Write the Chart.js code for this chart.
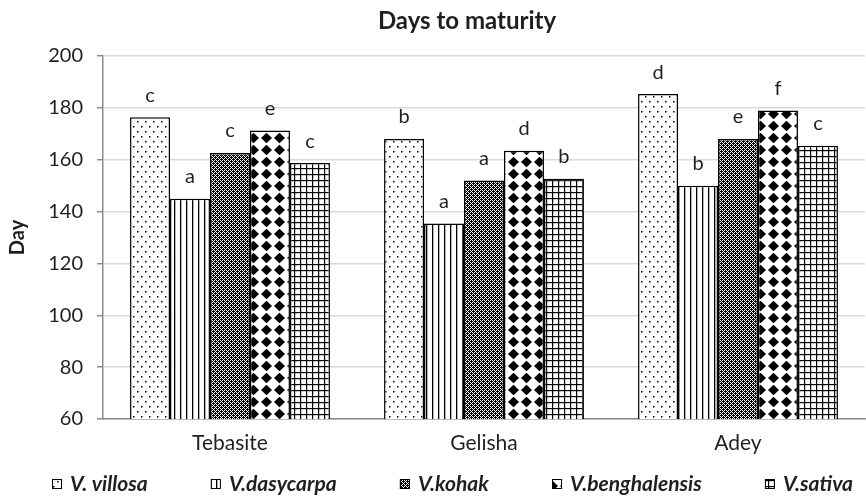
<!DOCTYPE html>
<html>
<head>
<meta charset="utf-8">
<script src="https://cdn.jsdelivr.net/npm/chart.js@4/dist/chart.umd.min.js"></script>
<style>
  html, body { margin: 0; padding: 0; background: #fff; }
  #wrap { width: 866px; height: 502px; }
</style>
</head>
<body>
<div id="wrap"><canvas id="chartDays" width="866" height="502"></canvas></div>
<script>
// ===== Dados =====
const locations = ['Tebasite', 'Gelisha', 'Adey'];
const species = ['V. villosa', 'V.dasycarpa', 'V.kohak', 'V.benghalensis', 'V.sativa'];

const villosa = [176.4, 168.0, 185.3];
const dasycarpa = [144.9, 135.4, 150.0];
const kohak = [162.6, 152.0, 168.0];
const benghalensis = [171.3, 163.5, 179.0];
const sativa = [158.7, 152.7, 165.4];

// letras de significância
const lettersVillosa = ['c', 'b', 'd'];
const lettersDasycarpa = ['a', 'a', 'b'];
const lettersKohak = ['c', 'a', 'e'];
const lettersBenghalensis = ['e', 'd', 'f'];
const lettersSativa = ['c', 'b', 'c'];

const yTicks = [60, 80, 100, 120, 140, 160, 180, 200];

const FONT = "Lato, 'Open Sans', sans-serif";
const TEXT = '#1f1f1f';

// ===== Padrões de preenchimento =====
function makeTile(w, h, draw) {
    const c = document.createElement('canvas');
    c.width = w; c.height = h;
    const g = c.getContext('2d');
    g.fillStyle = '#fff';
    g.fillRect(0, 0, w, h);
    g.fillStyle = '#000';
    draw(g);
    return document.createElement('canvas').getContext('2d').createPattern(c, 'repeat');
}

const patDots = makeTile(8, 10, g => {
    g.fillRect(1, 1, 1.5, 1.5);
    g.fillRect(5, 6, 1.5, 1.5);
});
const patVertical = makeTile(6, 6, g => {
    g.fillRect(0, 0, 1.3, 6);
});
const patDense = makeTile(4, 4, g => {
    g.fillRect(0, 0, 4, 4);
    g.fillStyle = '#fff';
    [[0, 0], [2, 0], [1, 1], [0, 2], [2, 2], [3, 3]].forEach(p => g.fillRect(p[0], p[1], 1, 1));
});
const patDiamond = makeTile(13, 12, g => {
    g.beginPath();
    g.moveTo(6.5, 0.8);
    g.lineTo(12, 6);
    g.lineTo(6.5, 11.2);
    g.lineTo(1, 6);
    g.closePath();
    g.fill();
});
const patGrid = makeTile(6, 6, g => {
    g.fillRect(0, 0, 6, 1.2);
    g.fillRect(0, 0, 1.2, 6);
});

// ===== Plugins =====
const letterLabels = {
    id: 'letterLabels',
    afterDatasetsDraw(chart) {
        const ctx = chart.ctx;
        ctx.save();
        ctx.font = '20px ' + FONT;
        ctx.fillStyle = TEXT;
        ctx.textAlign = 'center';
        ctx.textBaseline = 'middle';
        chart.data.datasets.forEach((ds, i) => {
            const meta = chart.getDatasetMeta(i);
            meta.data.forEach((bar, j) => {
                ctx.fillText(ds.letters[j], bar.x, bar.y - 22);
            });
        });
        ctx.restore();
    }
};

const chartTitle = {
    id: 'chartTitle',
    afterDraw(chart) {
        const ctx = chart.ctx;
        ctx.save();
        ctx.font = 'bold 24px ' + FONT;
        ctx.fillStyle = TEXT;
        ctx.textAlign = 'center';
        ctx.textBaseline = 'middle';
        ctx.fillText('Days to maturity', 467, 21);
        ctx.restore();
    }
};

// legenda desenhada à mão, espalhada entre x0 e x1
const bottomLegend = {
    id: 'bottomLegend',
    afterDraw(chart) {
        const ctx = chart.ctx;
        const x0 = 52, x1 = 853, y = 484, box = 10, gapText = 8;
        ctx.save();
        ctx.font = 'italic bold 21px ' + FONT;
        const sets = chart.data.datasets;
        const widths = sets.map(ds => ctx.measureText(ds.label).width);
        const used = widths.reduce((a, b) => a + b, 0) + sets.length * (box + gapText);
        const gap = (x1 - x0 - used) / (sets.length - 1);
        let x = x0;
        sets.forEach((ds, i) => {
            ctx.fillStyle = ds.backgroundColor;
            ctx.fillRect(x, y - box / 2, box, box);
            ctx.strokeStyle = '#000';
            ctx.lineWidth = 1;
            ctx.strokeRect(x + 0.5, y - box / 2 + 0.5, box - 1, box - 1);
            ctx.fillStyle = TEXT;
            ctx.textAlign = 'left';
            ctx.textBaseline = 'middle';
            ctx.fillText(ds.label, x + box + gapText, y);
            x += box + gapText + widths[i] + gap;
        });
        ctx.restore();
    }
};

// ===== Gráfico =====
function createChartDays() {
    const ctx = document.getElementById('chartDays');
    if (!ctx) return;

    const series = [
        { data: villosa, letters: lettersVillosa, fill: patDots },
        { data: dasycarpa, letters: lettersDasycarpa, fill: patVertical },
        { data: kohak, letters: lettersKohak, fill: patDense },
        { data: benghalensis, letters: lettersBenghalensis, fill: patDiamond },
        { data: sativa, letters: lettersSativa, fill: patGrid }
    ];

    new Chart(ctx, {
        type: 'bar',
        data: {
            labels: locations,
            datasets: series.map((s, i) => ({
                label: species[i],
                data: s.data,
                letters: s.letters,
                backgroundColor: s.fill,
                borderColor: '#000',
                borderWidth: 1.5,
                borderSkipped: false,
                categoryPercentage: 0.787,
                barPercentage: 1.0
            }))
        },
        options: {
            responsive: false,
            animation: false,
            layout: { padding: { top: 56, right: 1, left: 4, bottom: 46 } },
            plugins: {
                title: { display: false },
                tooltip: { enabled: false },
                legend: { display: false }
            },
            scales: {
                x: {
                    grid: { display: false, drawTicks: false },
                    border: { color: '#8c8c8c', width: 1.5 },
                    afterFit: axis => { axis.height = 37; },
                    ticks: {
                        color: TEXT,
                        padding: 12,
                        font: { family: FONT, size: 21 }
                    }
                },
                y: {
                    min: 60,
                    max: 200,
                    afterBuildTicks: axis => {
                        axis.ticks = yTicks.map(v => ({ value: v }));
                    },
                    afterFit: axis => { axis.width = 99; },
                    grid: {
                        color: '#d9d9d9',
                        lineWidth: 1.5,
                        tickLength: 6,
                        tickColor: '#8c8c8c'
                    },
                    border: { color: '#8c8c8c', width: 1.5 },
                    ticks: {
                        color: TEXT,
                        padding: 14,
                        font: { family: FONT, size: 20 }
                    },
                    title: {
                        display: true,
                        text: 'Day',
                        color: TEXT,
                        padding: { top: 2, bottom: 0 },
                        font: { family: FONT, size: 20, weight: 'bold' }
                    }
                }
            }
        },
        plugins: [letterLabels, chartTitle, bottomLegend]
    });
}

document.addEventListener('DOMContentLoaded', createChartDays);
</script>
</body>
</html>
